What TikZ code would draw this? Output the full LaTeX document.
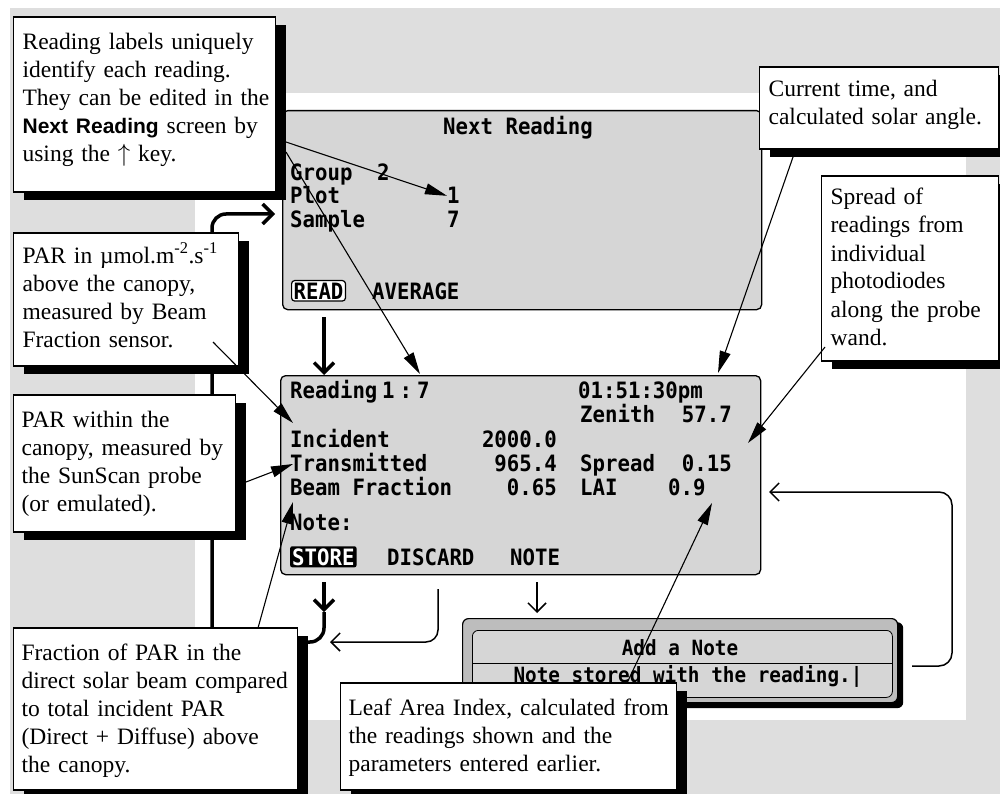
\documentclass[tikz,border=0pt]{standalone}
\usepackage{fontspec}
\setmainfont{Liberation Serif}
\setsansfont{Liberation Sans}
\newfontfamily\lcdfont[FakeStretch=0.92]{DejaVu Sans Mono}
\usetikzlibrary{arrows.meta,shadows}

\definecolor{bggray}{gray}{0.87}
\definecolor{lcdgray}{gray}{0.84}
\definecolor{bandgray}{gray}{0.74}

\newcommand\oneline[1]{\mbox{#1}}

\tikzset{
	callout/.style={draw, fill=white, line width=1.2pt, align=left, anchor=base west,
		inner xsep=9pt, inner ysep=0pt, font=\fontsize{23.5}{28}\selectfont,
		drop shadow={fill=black, opacity=1, shadow xshift=10pt, shadow yshift=-8pt}},
	lcdscreen/.style={draw, fill=lcdgray, line width=1.3pt, rounded corners=5pt, anchor=north west},
	lcdtext/.style={inner sep=0pt, anchor=base west, font=\fontsize{22.5}{24}\selectfont\lcdfont\bfseries},
	notetext/.style={inner sep=0pt, anchor=base, font=\fontsize{21}{22}\selectfont\lcdfont\bfseries},
	readkey/.style={lcdtext, draw, fill=white, line width=1.2pt, rounded corners=3pt, inner xsep=2pt, inner ysep=2pt},
	storekey/.style={lcdtext, fill=black, text=white, rounded corners=2pt, inner xsep=2pt, inner ysep=2pt},
	pointer/.style={draw, line width=1.1pt, -{Triangle[length=22pt,width=11pt]}},
	flow/.style={draw, line width=3.5pt, -{Straight Barb[length=10pt,width=20pt]}},
	thinflow/.style={draw, line width=1.5pt, -{Straight Barb[length=9pt,width=18pt]}}
}

\begin{document}
\begin{tikzpicture}[x=1pt,y=-1pt]
	\useasboundingbox (0,0) rectangle (1000,794);
	% backdrop
	\fill[bggray] (10,8) rectangle (1000,794);
	\fill[white] (195,93) rectangle (966,720);

	% screens
	\node[lcdscreen, minimum width=479pt, minimum height=199pt] (nextscr) at (282,110) {};
	\node[lcdscreen, minimum width=480pt, minimum height=199pt] (readscr) at (280,375) {};

	\node[lcdtext, anchor=base] (nexttitle) at (518,135) {Next Reading};
	\node[lcdtext] (grouplbl) at (290,181) {Group};
	\node[lcdtext] (groupval) at (377,181) {2};
	\node[lcdtext] (plotlbl) at (290,204) {Plot};
	\node[lcdtext] (plotval) at (447,204) {1};
	\node[lcdtext] (samplelbl) at (290,228) {Sample};
	\node[lcdtext] (sampleval) at (447,228) {7};
	\node[readkey] (readbtn) at (291,299) {READ};
	\node[lcdtext] (avgbtn) at (372,299) {AVERAGE};

	\node[lcdtext] (rdlbl) at (290,398) {Reading};
	\node[lcdtext] (rdval) at (382,398) {1\hspace{5pt}:\hspace{5pt}7};
	\node[lcdtext] (clock) at (578,398) {01:51:30pm};
	\node[lcdtext] (zenlbl) at (580,422) {Zenith};
	\node[lcdtext, anchor=base east] (zenval) at (732,422) {57.7};
	\node[lcdtext] (inclbl) at (290,447) {Incident};
	\node[lcdtext, anchor=base east] (incval) at (557,447) {2000.0};
	\node[lcdtext] (translbl) at (290,471) {Transmitted};
	\node[lcdtext, anchor=base east] (transval) at (557,471) {965.4};
	\node[lcdtext] (spreadlbl) at (580,471) {Spread};
	\node[lcdtext, anchor=base east] (spreadval) at (732,471) {0.15};
	\node[lcdtext] (beamlbl) at (290,495) {Beam Fraction};
	\node[lcdtext, anchor=base east] (beamval) at (557,495) {0.65};
	\node[lcdtext] (lailbl) at (580,495) {LAI};
	\node[lcdtext] (laival) at (668,495) {0.9};
	\node[lcdtext] (notelbl) at (290,530) {Note:};
	\node[storekey] (storebtn) at (290,565) {STORE};
	\node[lcdtext] (discbtn) at (387,565) {DISCARD};
	\node[lcdtext] (notebtn) at (510,565) {NOTE};

	% add a note window
	\node[fill=black, rounded corners=6pt, minimum width=437pt, minimum height=86pt, anchor=north west] (noteshadow) at (466,622) {};
	\node[draw, fill=bandgray, line width=1.2pt, rounded corners=6pt, minimum width=435pt, minimum height=84pt, anchor=north west] (noteframe) at (462,618) {};
	\node[draw, fill=lcdgray, line width=0.8pt, rounded corners=6pt, minimum width=420pt, minimum height=67pt, anchor=north west] (noteinner) at (472,630) {};
	\draw[line width=1pt] (noteinner.west |- 0,663) -- (noteinner.east |- 0,663);
	\node[notetext] (notetitle) at (680,655) {Add a Note};
	\node[notetext] (notebody) at (688,682) {Note stored with the reading.|};

	% flow between screens
	\coordinate (nextdown) at (324,317);
	\coordinate (storedown) at (324,582);
	\coordinate (storemid) at (324,612);
	\coordinate (looptip) at (275,214);
	\coordinate (discdown) at (438,589);
	\coordinate (disctip) at (330,642);
	\coordinate (notedown) at (537,582);
	\coordinate (notetip) at (537,613);
	\coordinate (noteout) at (912,666);
	\coordinate (laiback) at (769,492);

	\draw[flow] (nextdown) -- (nextdown |- readscr.north);
	\draw[flow] (storedown) -- (storemid);
	\draw[flow, rounded corners=14pt] (storemid) -- (324,642) -- (212,642) -- (212,214) -- (looptip);
	\draw[thinflow, rounded corners=12pt] (discdown) -- (438,642) -- (disctip);
	\draw[thinflow] (notedown) -- (notetip);
	\draw[thinflow, rounded corners=13pt] (noteout) -- (952,666) -- (952,492) -- (laiback);

	% callouts
	\node[callout, text width=244pt, text height=33pt, text depth=142pt] (labels) at (13,50)
		{\oneline{Reading labels uniquely}\\\oneline{identify each reading.}\\\oneline{They can be edited in the}\\\oneline{{\sffamily\bfseries\fontsize{21}{28}\selectfont Next Reading} screen by}\\\oneline{using the $\uparrow$ key.}};
	\node[callout, text width=207pt, text height=30pt, text depth=103pt] (parabove) at (13,263)
		{\oneline{PAR in µmol.m\textsuperscript{-2}.s\textsuperscript{-1}}\\\oneline{above the canopy,}\\\oneline{measured by Beam}\\\oneline{Fraction sensor.}};
	\node[callout, inner xsep=8pt, text width=206pt, text height=32pt, text depth=105pt] (parwithin) at (13,427)
		{\oneline{PAR within the}\\\oneline{canopy, measured by}\\\oneline{the SunScan probe}\\\oneline{(or emulated).}};
	\node[callout, inner xsep=8pt, text width=268pt, text height=32pt, text depth=130pt] (beamfrac) at (13,660)
		{\oneline{Fraction of PAR in the}\\\oneline{direct solar beam compared}\\\oneline{to total incident PAR}\\\oneline{(Direct + Diffuse) above}\\\oneline{the canopy.}};
	\node[callout, inner xsep=8pt, text width=320pt, text height=32pt, text depth=75pt] (leafarea) at (340,715)
		{\oneline{Leaf Area Index, calculated from}\\\oneline{the readings shown and the}\\\oneline{parameters entered earlier.}};
	\node[callout, text width=221pt, text height=30pt, text depth=52pt] (curtime) at (759,97)
		{\oneline{Current time, and}\\\oneline{calculated solar angle.}};
	\node[callout, text width=159pt, text height=29pt, text depth=156pt] (spread) at (821,205)
		{\oneline{Spread of}\\\oneline{readings from}\\\oneline{individual}\\\oneline{photodiodes}\\\oneline{along the probe}\\\oneline{wand.}};

	% pointers
	\coordinate (labelsout1) at (286,142);
	\coordinate (labelsout2) at (286,152);
	\coordinate (rdtip) at (420,374);
	\coordinate (paraboveout) at (213,342);
	\coordinate (inctip) at (293,423);
	\coordinate (parwithinout) at (246,482);
	\coordinate (transtip) at (293,464);
	\coordinate (beamfracout) at (258,628);
	\coordinate (beamtip) at (293,502);
	\coordinate (curtimeout) at (793,157);
	\coordinate (timetip) at (718,373);
	\coordinate (spreadout) at (825,347);
	\coordinate (spreadtip) at (748,443);
	\coordinate (leafareaout) at (627,683);
	\coordinate (laitip) at (712,503);

	\draw[pointer] (labelsout1) -- (plotval.west);
	\draw[pointer] (labelsout2) -- (rdtip);
	\draw[pointer] (paraboveout) -- (inctip);
	\draw[pointer] (parwithinout) -- (transtip);
	\draw[pointer] (beamfracout) -- (beamtip);
	\draw[pointer] (curtimeout) -- (timetip);
	\draw[pointer] (spreadout) -- (spreadtip);
	\draw[pointer] (leafareaout) -- (laitip);
\end{tikzpicture}
\end{document}
